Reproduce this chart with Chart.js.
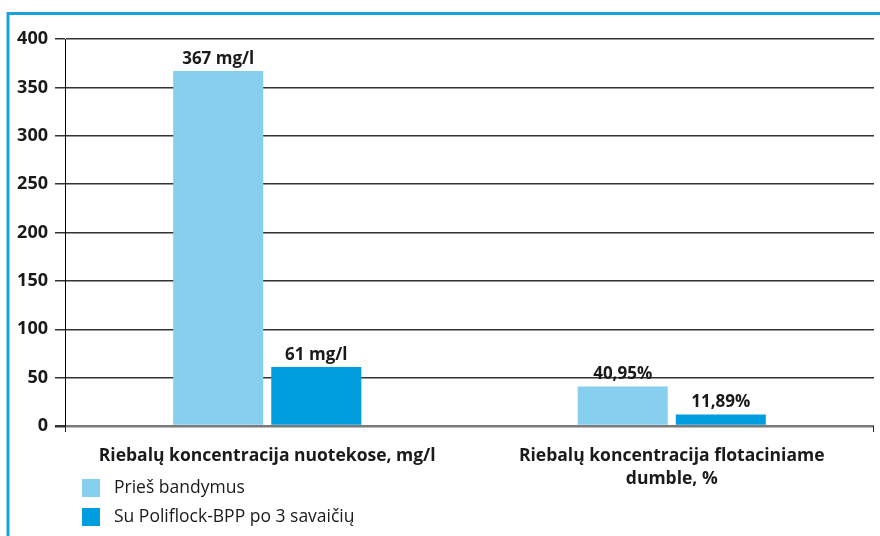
<!DOCTYPE html>
<html>
<head>
<meta charset="utf-8">
<script src="https://cdn.jsdelivr.net/npm/chart.js@4"></script>
<style>
  html, body { margin: 0; padding: 0; background: #fff; }
  #wrap { position: relative; width: 880px; height: 536px; }
</style>
</head>
<body>
<div id="wrap"><canvas id="c" width="880" height="536"></canvas></div>
<script>
// Fat concentration before and after treatment
const categories = [
  'Riebalų koncentracija nuotekose, mg/l',
  ['Riebalų koncentracija flotaciniame', 'dumble, %']
];
const seriesNames = ['Prieš bandymus', 'Su Poliflock-BPP po 3 savaičių'];
const beforeValues = [367, 40.95];
const afterValues = [61, 11.89];
const beforeLabels = ['367 mg/l', '40,95%'];
const afterLabels = ['61 mg/l', '11,89%'];
const yTicks = [0, 50, 100, 150, 200, 250, 300, 350, 400];

const FONT = '"Open Sans", "Noto Sans", sans-serif';
const LIGHT = '#87CFEF';
const DARK = '#009EDF';

// Frame, value labels, end ticks and vertical legend
const decor = {
  id: 'decor',
  beforeDraw(chart) {
    const ctx = chart.ctx;
    ctx.save();
    ctx.strokeStyle = '#1AA2DD';
    ctx.lineWidth = 3;
    ctx.beginPath();
    ctx.moveTo(8, 536);
    ctx.lineTo(8, 13.5);
    ctx.lineTo(880, 13.5);
    ctx.stroke();
    ctx.restore();
  },
  afterDatasetsDraw(chart) {
    const ctx = chart.ctx;
    const area = chart.chartArea;
    ctx.save();
    // small ticks below the baseline at both ends
    ctx.strokeStyle = '#222';
    ctx.lineWidth = 1;
    ctx.beginPath();
    ctx.moveTo(area.left + 0.5, area.bottom);
    ctx.lineTo(area.left + 0.5, area.bottom + 6);
    ctx.moveTo(area.right - 0.5, area.bottom);
    ctx.lineTo(area.right - 0.5, area.bottom + 6);
    ctx.stroke();

    // value labels above bars
    ctx.fillStyle = '#1a1a1a';
    ctx.font = 'bold 17px ' + FONT;
    ctx.textAlign = 'center';
    ctx.textBaseline = 'alphabetic';
    const labelSets = [beforeLabels, afterLabels];
    chart.data.datasets.forEach((ds, di) => {
      chart.getDatasetMeta(di).data.forEach((bar, i) => {
        ctx.fillText(labelSets[di][i], bar.x, bar.y - 7);
      });
    });

    // legend, stacked vertically at bottom-left
    ctx.font = '17.5px ' + FONT;
    ctx.textAlign = 'left';
    ctx.textBaseline = 'middle';
    chart.data.datasets.forEach((ds, di) => {
      const y = 479 + di * 29;
      ctx.fillStyle = ds.backgroundColor;
      ctx.fillRect(82, y, 18, 18);
      ctx.fillStyle = '#1a1a1a';
      ctx.fillText(ds.label, 114, y + 9);
    });
    ctx.restore();
  }
};

new Chart(document.getElementById('c'), {
  type: 'bar',
  data: {
    labels: categories,
    datasets: [
      { label: seriesNames[0], data: beforeValues, backgroundColor: LIGHT },
      { label: seriesNames[1], data: afterValues, backgroundColor: DARK }
    ]
  },
  options: {
    responsive: false,
    animation: false,
    events: [],
    layout: { padding: { top: 39, right: 6, left: 0, bottom: 0 } },
    datasets: {
      bar: { categoryPercentage: 0.485, barPercentage: 0.918 }
    },
    plugins: {
      legend: { display: false },
      tooltip: { enabled: false }
    },
    scales: {
      x: {
        grid: { display: false },
        border: { display: false },
        ticks: {
          color: '#1a1a1a',
          font: { family: FONT, size: 17.5, weight: 'bold', lineHeight: 1.35 },
          padding: 10,
          maxRotation: 0,
          autoSkip: false
        },
        afterFit(scale) { scale.height = 110; }
      },
      y: {
        min: 0,
        max: 400,
        afterBuildTicks(scale) { scale.ticks = yTicks.map(v => ({ value: v })); },
        grid: {
          color: ctx => (ctx.tick && ctx.tick.value === 0) ? '#7a7a7a' : '#333333',
          lineWidth: ctx => (ctx.tick && ctx.tick.value === 0) ? 2.5 : 1.5,
          tickLength: 10,
          tickColor: '#333333'
        },
        border: { display: true, color: '#000', width: 1 },
        ticks: {
          color: '#1a1a1a',
          font: { family: FONT, size: 18, weight: 'bold' },
          padding: 7
        },
        afterFit(scale) { scale.width = 65; }
      }
    }
  },
  plugins: [decor]
});
</script>
</body>
</html>
